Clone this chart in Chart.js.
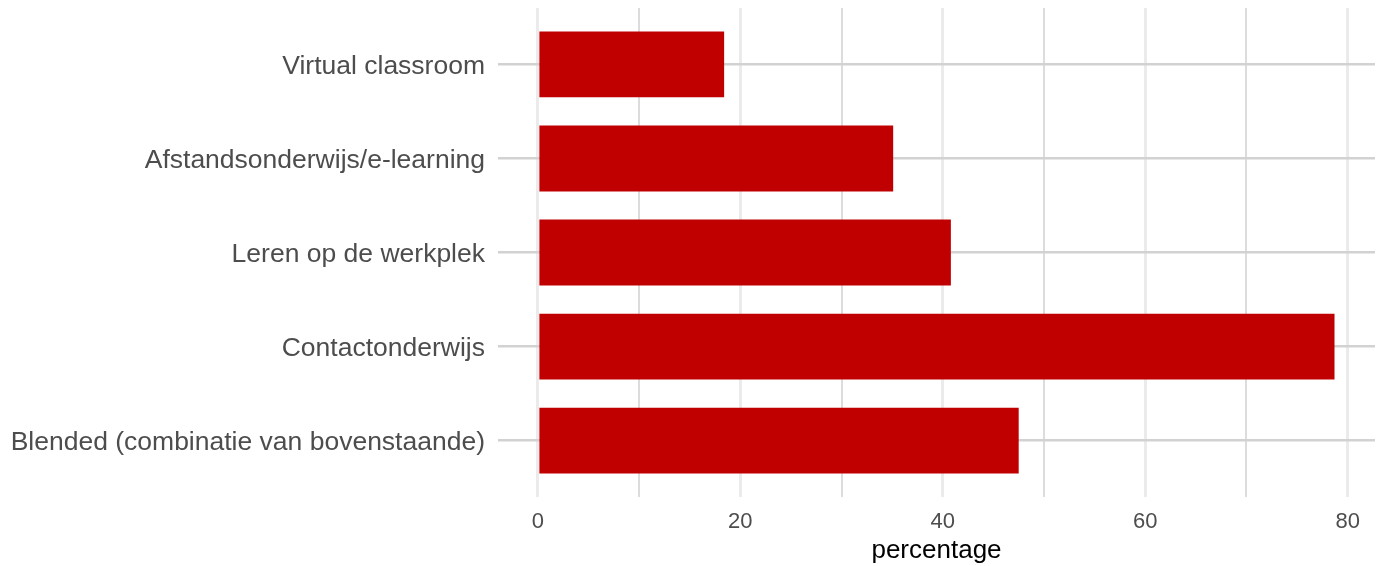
<!DOCTYPE html>
<html>
<head>
<meta charset="utf-8">
<script src="https://cdn.jsdelivr.net/npm/chart.js@4/dist/chart.umd.min.js"></script>
<style>
html,body{margin:0;padding:0;background:#fff;}
#wrap{width:1380px;height:566px;position:relative;}
</style>
</head>
<body>
<div id="wrap"><canvas id="c" width="1380" height="566"></canvas></div>
<script>
// Categories from bottom to top
const categories = [
  "Blended (combinatie van bovenstaande)",
  "Contactonderwijs",
  "Leren op de werkplek",
  "Afstandsonderwijs/e-learning",
  "Virtual classroom"
];
const percentages = [47.5, 78.7, 40.8, 35.1, 18.4];
const xTicks = [0, 10, 20, 30, 40, 50, 60, 70, 80];
const xLabelled = [0, 20, 40, 60, 80];
const axisTitle = "percentage";

const points = categories.map((c, i) => ({ x: percentages[i], y: i + 1 }));
const FONT = "'Liberation Sans', Arial, sans-serif";

new Chart(document.getElementById('c'), {
  type: 'bar',
  data: {
    datasets: [{
      data: points,
      backgroundColor: '#c00000',
      borderWidth: 0,
      barPercentage: 1,
      categoryPercentage: 0.7
    }]
  },
  options: {
    indexAxis: 'y',
    responsive: false,
    animation: false,
    maintainAspectRatio: false,
    layout: { padding: { top: 8, right: 5, left: 0, bottom: 0 } },
    plugins: { legend: { display: false }, tooltip: { enabled: false } },
    scales: {
      x: {
        type: 'linear',
        min: -3.94,
        max: 82.7,
        afterBuildTicks: s => { s.ticks = xTicks.map(v => ({ value: v })); },
        afterFit: s => { s.height = 69; s.paddingLeft = 0; s.paddingRight = 0; },
        border: { display: false },
        grid: {
          drawTicks: false,
          color: ctx => (ctx.tick && xLabelled.includes(ctx.tick.value)) ? '#ebebeb' : '#dcdcdc',
          lineWidth: ctx => (ctx.tick && xLabelled.includes(ctx.tick.value)) ? 3 : 2
        },
        ticks: {
          padding: 12,
          color: '#4d4d4d',
          font: { family: FONT, size: 22 },
          maxRotation: 0,
          autoSkip: false,
          callback: v => xLabelled.includes(v) ? String(v) : ''
        },
        title: {
          display: true,
          text: axisTitle,
          color: '#000',
          font: { family: FONT, size: 26 },
          padding: { top: 2, bottom: 0 }
        }
      },
      y: {
        type: 'linear',
        min: 0.4,
        max: 5.6,
        offset: false,
        afterBuildTicks: s => { s.ticks = categories.map((c, i) => ({ value: i + 1 })); },
        afterFit: s => { s.width = 498; s.paddingTop = 0; s.paddingBottom = 0; },
        border: { display: false },
        grid: {
          offset: false,
          drawTicks: false,
          color: '#d2d2d2',
          lineWidth: 2.5
        },
        ticks: {
          padding: 13,
          labelOffset: 2,
          color: '#4d4d4d',
          font: { family: FONT, size: 26.5 },
          autoSkip: false,
          callback: v => categories[v - 1] || ''
        }
      }
    }
  }
});
</script>
</body>
</html>
